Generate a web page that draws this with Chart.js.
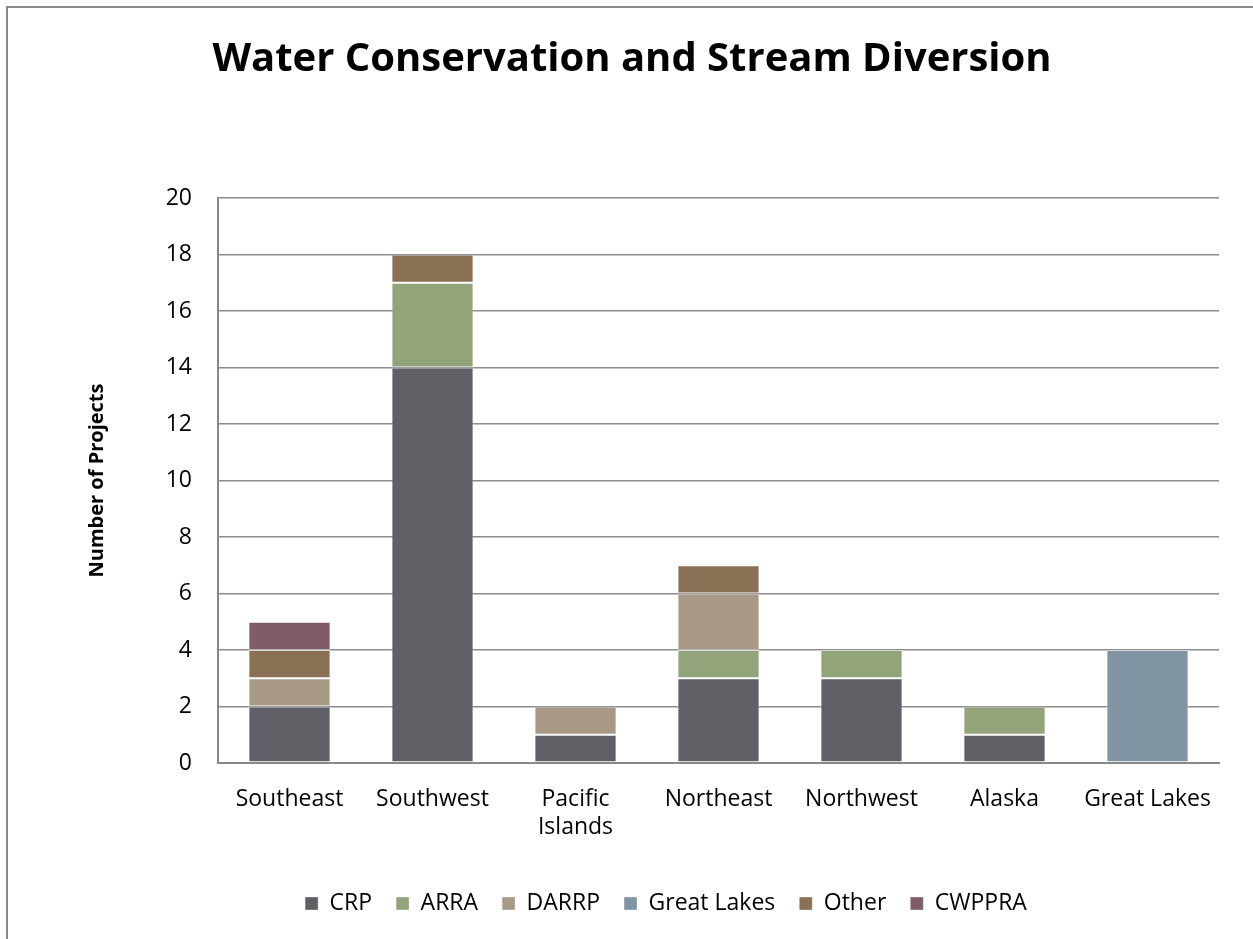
<!DOCTYPE html>
<html>
<head>
<meta charset="utf-8">
<script src="https://cdn.jsdelivr.net/npm/chart.js@4.4.0/dist/chart.umd.min.js"></script>
<style>
  html, body { margin: 0; padding: 0; background: #fff; }
  #wrap { position: absolute; left: 0; top: 0; width: 1253px; height: 939px; }
</style>
</head>
<body>
<div id="wrap"><canvas id="chart" width="1253" height="939"></canvas></div>
<script>
(function () {
    "use strict";

    // Regions along the x axis
    const regions = ["Southeast", "Southwest", ["Pacific", "Islands"], "Northeast", "Northwest", "Alaska", "Great Lakes"];

    // Number of projects per program, one value per region
    const crp        = [2, 14, 1, 3, 3, 1, 0];
    const arra       = [0, 3, 0, 1, 1, 1, 0];
    const darrp      = [1, 0, 1, 2, 0, 0, 0];
    const greatLakes = [0, 0, 0, 0, 0, 0, 4];
    const other      = [1, 1, 0, 1, 0, 0, 0];
    const cwppra     = [1, 0, 0, 0, 0, 0, 0];

    const yTicks = [0, 2, 4, 6, 8, 10, 12, 14, 16, 18, 20];

    const palette = {
        crp: '#5f5f65',
        arra: '#93a37a',
        darrp: '#a89a86',
        greatLakes: '#8094a1',
        other: '#8a7054',
        cwppra: '#7f5c68'
    };

    const font = "'Open Sans', Lato, 'Liberation Sans', sans-serif";

    function series(label, data, color) {
        return {
            label,
            data,
            backgroundColor: color,
            borderColor: 'rgba(255,255,255,0.35)',
            borderWidth: 1,
            borderSkipped: false,
            categoryPercentage: 1,
            barPercentage: 0.575,
            stack: 's'
        };
    }

    const outerBorder = {
        id: 'outerBorder',
        beforeDraw(chart) {
            const c = chart.ctx;
            c.save();
            c.fillStyle = '#fff';
            c.fillRect(0, 0, chart.width, chart.height);
            c.strokeStyle = '#888';
            c.lineWidth = 2;
            c.strokeRect(7, 7, chart.width + 20, chart.height + 20);
            c.restore();
        }
    };

    // legend in the original sits a bit right of centre
    const legendShift = {
        id: 'legendShift',
        afterLayout(chart) {
            if (!chart.legend) return;
            chart.legend.left += 34;
            chart.legend.right += 34;
        }
    };

    new Chart(document.getElementById('chart'), {
        type: 'bar',
        data: {
            labels: regions,
            datasets: [
                series('CRP', crp, palette.crp),
                series('ARRA', arra, palette.arra),
                series('DARRP', darrp, palette.darrp),
                series('Great Lakes', greatLakes, palette.greatLakes),
                series('Other', other, palette.other),
                series('CWPPRA', cwppra, palette.cwppra)
            ]
        },
        options: {
            responsive: false,
            animation: false,
            layout: { padding: { left: 45, right: 34, top: 30, bottom: 14 } },
            plugins: {
                title: {
                    display: true,
                    text: 'Water Conservation and Stream Diversion',
                    color: '#000',
                    font: { family: font, size: 40, weight: 'bold' },
                    padding: { top: 6, bottom: 114 }
                },
                legend: {
                    position: 'bottom',
                    labels: {
                        color: '#000',
                        font: { family: font, size: 23 },
                        boxWidth: 13,
                        boxHeight: 13,
                        padding: 24,
                        useBorderRadius: false
                    }
                },
                tooltip: { enabled: false }
            },
            scales: {
                x: {
                    stacked: true,
                    grid: { display: false, drawTicks: false },
                    border: { color: '#888', width: 2 },
                    ticks: { color: '#000', font: { family: font, size: 23 }, padding: 23, maxRotation: 0 },
                    afterFit(scale) { scale.height = 105; }
                },
                y: {
                    stacked: true,
                    min: 0,
                    max: 20,
                    afterBuildTicks(scale) { scale.ticks = yTicks.map(v => ({ value: v })); },
                    grid: { color: '#8c8c8c', lineWidth: 1.5, drawTicks: false },
                    border: { color: '#888', width: 2 },
                    ticks: { color: '#000', font: { family: font, size: 23 }, padding: 26 },
                    title: {
                        display: true,
                        text: 'Number of Projects',
                        color: '#000',
                        font: { family: font, size: 20, weight: 'bold' },
                        padding: { top: 40, bottom: 35 }
                    },
                    afterFit(scale) { scale.width = 173; }
                }
            }
        },
        plugins: [outerBorder, legendShift]
    });
})();
</script>
</body>
</html>
